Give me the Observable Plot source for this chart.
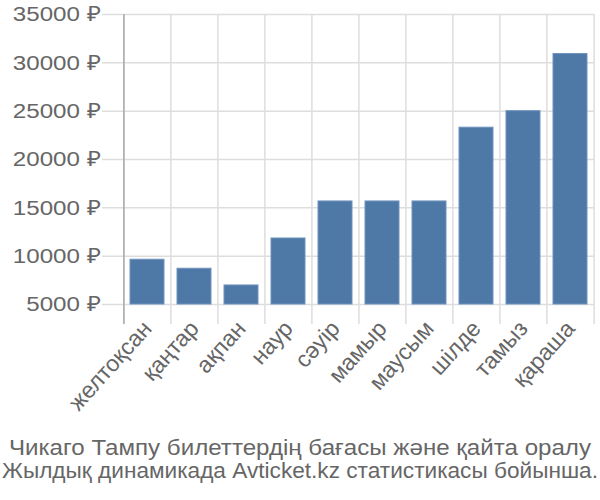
<!DOCTYPE html>
<html>
<head>
<meta charset="utf-8">
<script src="https://cdn.jsdelivr.net/npm/d3@7"></script>
<script src="https://cdn.jsdelivr.net/npm/@observablehq/plot@0.6"></script>
<style>
  html, body { margin: 0; padding: 0; background: #fff; }
  #chart { width: 600px; height: 500px; position: relative; }
  svg { display: block; }
</style>
</head>
<body>
<div id="chart"></div>
<script>
const months = ["желтоқсан", "қаңтар", "ақпан", "наур", "сәуір", "мамыр", "маусым", "шілде", "тамыз", "қараша"];
const prices = [9630, 8700, 6970, 11830, 15660, 15660, 15660, 23290, 25000, 30910];
const yTicks = [5000, 10000, 15000, 20000, 25000, 30000, 35000];
const titleLines = ["Чикаго Тампу билеттердің бағасы және қайта оралу", "Жылдық динамикада Avticket.kz статистикасы бойынша."];

const data = months.map((m, i) => ({month: m, price: prices[i]}));
const step = 472 / 10;
const FONT = "Liberation Sans, Arial, sans-serif";
const STRETCH = 1.15;

const plot = Plot.plot({
  width: 600,
  height: 430,
  marginLeft: 122,
  marginRight: 6,
  marginTop: 14,
  marginBottom: 126,
  style: {fontFamily: FONT, fontSize: "21px", color: "#666", background: "#fff"},
  x: {domain: months, paddingInner: 0.28, paddingOuter: 0.14, label: null},
  y: {domain: [5000, 35000], label: null},
  marks: [
    Plot.ruleY(yTicks, {stroke: "#ddd", strokeWidth: 1.5, insetLeft: -20}),
    Plot.ruleX(months, {x: d => d, y1: 35000, y2: 5000, dx: -step / 2, stroke: "#ddd", strokeWidth: 1.5, insetBottom: -20}),
    Plot.ruleX([months[months.length - 1]], {x: d => d, y1: 35000, y2: 5000, dx: step / 2, stroke: "#ddd", strokeWidth: 1.5, insetBottom: -20}),
    Plot.barY(data, {x: "month", y1: 5000, y2: "price", fill: "#4e79a7", stroke: "#6f93bd", strokeWidth: 1}),
    Plot.ruleX([months[0]], {x: d => d, y1: 35000, y2: 5000, dx: -step / 2, stroke: "#aaa", strokeWidth: 1.5, insetBottom: -20}),
    Plot.axisY(yTicks, {tickSize: 0, tickPadding: 22, tickFormat: d => d + " ₽", label: null, fontSize: 21}),
    Plot.axisX({tickSize: 0, tickPadding: 20, tickRotate: -48, label: null, fontSize: 23})
  ]
});

// emulate the horizontally stretched lettering of the reference's value labels
function stretchTexts(sel) {
  plot.querySelectorAll(sel).forEach(t => {
    const tr = t.getAttribute("transform") || "";
    const m = tr.match(/^(.*?translate\([^)]*\))(.*)$/);
    if (m) t.setAttribute("transform", `${m[1]} scale(${STRETCH},1)${m[2]}`);
  });
}
stretchTexts('g[aria-label="y-axis tick label"] text');

document.getElementById("chart").appendChild(plot);

const cap = d3.create("svg").attr("width", 600).attr("height", 70);
const lens = [582, 596];
const baselines = [24.5, 48];
titleLines.forEach((t, i) => {
  cap.append("text")
    .attr("x", 300).attr("y", baselines[i])
    .attr("text-anchor", "middle")
    .attr("font-family", FONT).attr("font-size", 22).attr("fill", "#666")
    .attr("textLength", lens[i]).attr("lengthAdjust", "spacingAndGlyphs")
    .text(t);
});
document.getElementById("chart").appendChild(cap.node());
</script>
</body>
</html>
